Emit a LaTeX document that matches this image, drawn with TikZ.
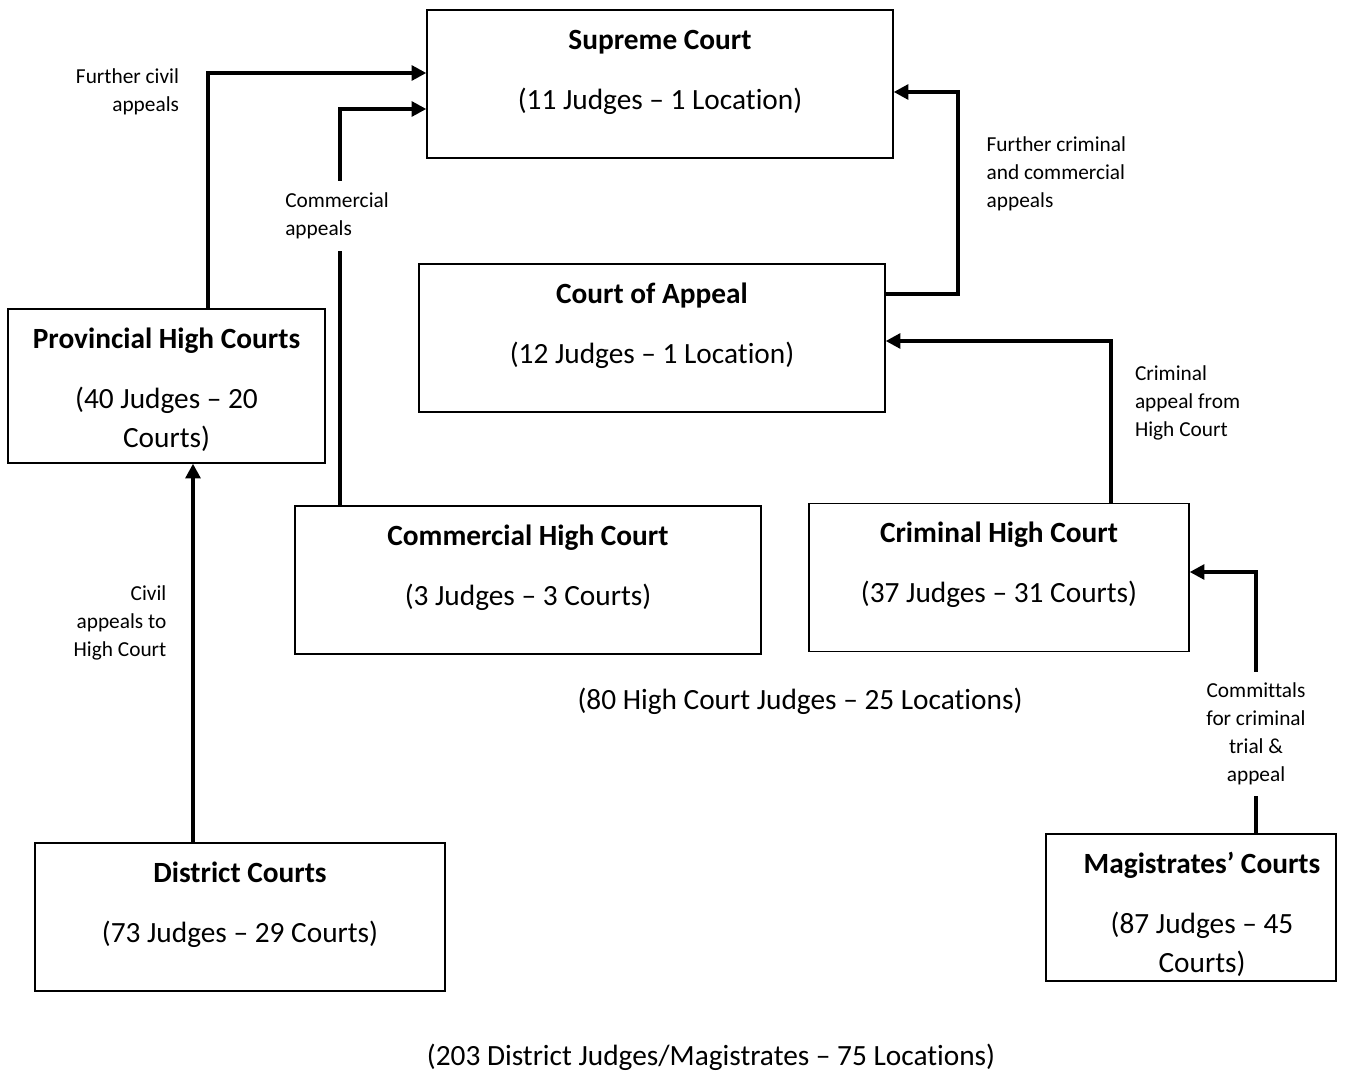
\documentclass[tikz,border=0pt]{standalone}
\usepackage{fontspec}
\setmainfont{Carlito}[Ligatures=NoCommon]
\usetikzlibrary{positioning,calc,arrows.meta}

\tikzset{
  court/.style = {draw, line width=1pt, minimum height=111pt},
  courttext/.style = {anchor=north, yshift=-12.75pt, inner sep=0pt, align=center, font=\fontsize{22}{29.25}\selectfont},
  total/.style = {inner sep=0pt, font=\fontsize{22}{29.25}\selectfont},
  note/.style = {inner sep=0pt, font=\fontsize{16}{21}\selectfont},
  appeal/.style = {line width=3pt, -{Triangle[length=11pt,width=11pt]}}
}
\newcommand{\courtlabel}[2]{\rule{0pt}{17pt}\textbf{#1}\\[15.75pt]#2}

\begin{document}
\begin{tikzpicture}[x=0.75pt, y=-0.75pt]
    \useasboundingbox (0,0) rectangle (1362,1073);
    \node (supreme) [court, minimum width=349.5pt, label={[courttext]north:{\courtlabel{Supreme Court}{(11 Judges – 1 Location)}}}] at (660,84) {};
    \node (appeal) [court, minimum width=349.5pt, label={[courttext]north:{\courtlabel{Court of Appeal}{(12 Judges – 1 Location)}}}] at (652,338) {};
    \node (provincial) [court, minimum width=237.75pt, minimum height=115.5pt, label={[courttext]north:{\courtlabel{Provincial High Courts}{(40 Judges – 20\\Courts)}}}] at (166.5,386) {};
    \node (commercial) [court, minimum width=349.5pt, label={[courttext]north:{\courtlabel{Commercial High Court}{(3 Judges – 3 Courts)}}}] at (528,580) {};
    \node (criminal) [court, minimum width=285pt, label={[courttext]north:{\courtlabel{Criminal High Court}{(37 Judges – 31 Courts)}}}] at (999,577.5) {};
    \node (district) [court, minimum width=307.5pt, label={[courttext]north:{\courtlabel{District Courts}{(73 Judges – 29 Courts)}}}] at (240,917) {};
    \node (magistrates) [court, minimum width=217.5pt, minimum height=110.25pt, label={[courttext, xshift=8.25pt]north:{\courtlabel{Magistrates’ Courts}{(87 Judges – 45\\Courts)}}}] at (1191,907.5) {};
    \node (hctotal) [total] at (800,701) {(80 High Court Judges – 25 Locations)};
    \node (dctotal) [total] at (711,1057) {(203 District Judges/Magistrates – 75 Locations)};

    \draw[appeal] ($(provincial.north)+(41.5,0)$) |- node[note, pos=0.46, left=20.25pt, align=right] {Further civil\\appeals} ($(supreme.west)+(0,-11)$);
    \draw[appeal] ($(commercial.north)+(-188,0)$) |- node[note, pos=0.365, fill=white, inner ysep=9pt, xshift=-2.25pt, align=left] {Commercial\\appeals} ($(supreme.west)+(0,25)$);
    \draw[appeal] ($(appeal.east)+(0,-44)$) -- ++(72,0) |- node[note, pos=0.297, right=20.25pt, align=left] {Further criminal\\and commercial\\appeals} ($(supreme.east)+(0,8)$);
    \draw[appeal] ($(criminal.north)+(112,0)$) |- node[note, pos=0.31, right=16.5pt, align=left] {Criminal\\appeal from\\High Court} ($(appeal.east)+(0,3)$);
    \draw[appeal] ($(magistrates.north)+(65,0)$) |- node[note, pos=0.19, fill=white, inner ysep=8pt, align=center] {Committals\\for criminal\\trial \&\\appeal} ($(criminal.east)+(0,-5.5)$);
    \draw[appeal] ($(district.north)+(-47,0)$) -- node[note, pos=0.58, left=18.5pt, align=right] {Civil\\appeals to\\High Court} ($(provincial.south)+(26.5,0)$);
\end{tikzpicture}
\end{document}
